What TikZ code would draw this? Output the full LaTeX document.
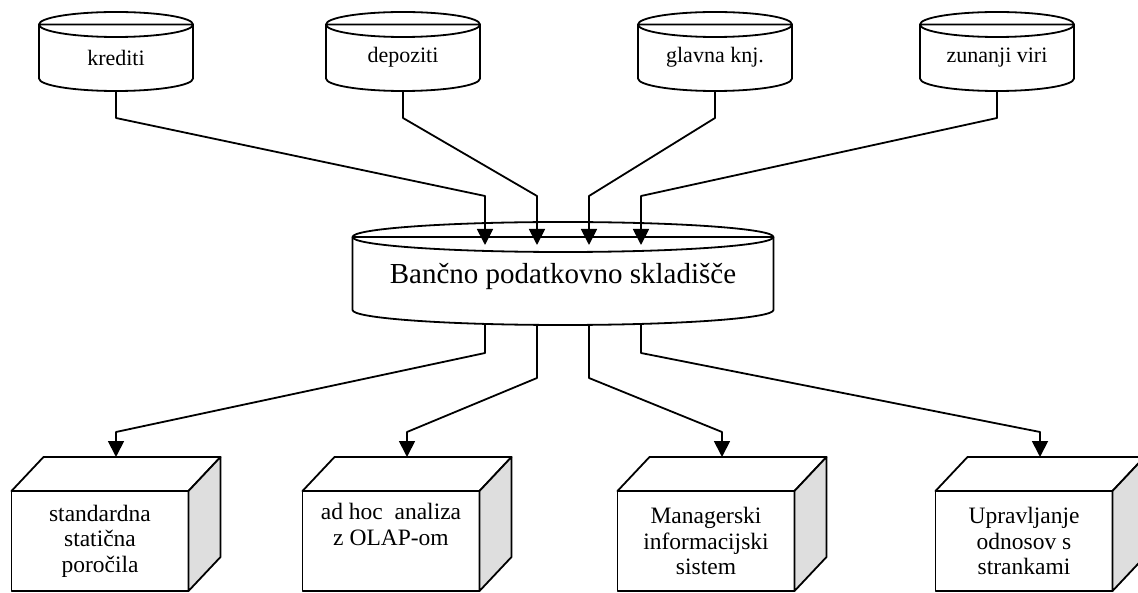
\documentclass[tikz,border=0pt]{standalone}
\usepackage{fontspec}
\setmainfont{Liberation Serif}
\usetikzlibrary{arrows.meta,calc}

\tikzset{
  line/.style={line width=1.8pt, draw=black, line join=round},
  conn/.style={line, -{Triangle[length=16pt,width=16pt]}},
  frame/.style={inner sep=0pt, outer sep=0pt, draw=none},
  srclabel/.style={inner sep=0pt, font=\fontsize{22}{26}\selectfont},
  hublabel/.style={inner sep=0pt, font=\fontsize{29}{34}\selectfont},
  boxfront/.style={line, fill=white, inner sep=0pt, outer sep=0pt,
    minimum width=177pt, minimum height=100pt, align=center,
    font=\fontsize{23.5}{25.5}\selectfont},
  topface/.style={line, fill=white},
  sideface/.style={line, fill=black!13},
}

% data store drawn as a cylinder: name, centre x, centre y, half width, half height, cap radius
\newcommand\dbstore[6]{%
  \node[frame, minimum width={2*#4}, minimum height={2*#5}] (#1) at (#2,#3) {};
  \draw[line, fill=white] (#2-#4,#3-#5+#6) -- (#2-#4,#3+#5-#6)
    arc[start angle=180, end angle=360, x radius=#4pt, y radius=#6pt]
    -- (#2+#4,#3-#5+#6) -- cycle;
  \draw[line] (#2,#3-#5+#6) ellipse[x radius=#4pt, y radius=#6pt];
}

% application drawn as a solid block: name, centre x, centre y, text
\newcommand\viewblock[4]{%
  \node[boxfront] (#1) at (#2,#3) {#4};
  \draw[topface] (#1.north west) -- ++(32,-34) -- ($(#1.north east)+(32,-34)$)
    -- (#1.north east) -- cycle;
  \draw[sideface] (#1.north east) -- ++(32,-34) -- ($(#1.south east)+(32,-34)$)
    -- (#1.south east) -- cycle;
}

\begin{document}
\begin{tikzpicture}[x=1pt, y=-1pt]
\path[use as bounding box, clip] (0,0) rectangle (1138,593);

% source systems
\dbstore{kred}{116}{51.5}{77}{39.5}{12.5}
\dbstore{depo}{403}{51.5}{77}{39.5}{12.5}
\dbstore{glav}{715}{51.5}{77}{39.5}{12.5}
\dbstore{zuna}{997}{51.5}{77}{39.5}{12.5}
\node[srclabel] (kred-t) at ($(kred)+(0,6)$) {krediti};
\node[srclabel] (depo-t) at ($(depo)+(0,6)$) {depoziti};
\node[srclabel] (glav-t) at ($(glav)+(0,6)$) {glavna knj.};
\node[srclabel] (zuna-t) at ($(zuna)+(0,6)$) {zunanji viri};

% central warehouse
\dbstore{wh}{563}{273.5}{210.5}{51.5}{15}
\node[hublabel] (wh-t) at ($(wh)+(0,3)$) {Bančno podatkovno skladišče};

% loading into the warehouse
\draw[conn] (kred.south) -- ++(0,27) -- ($(wh.north)+(-78,-26)$) -- ($(wh.north)+(-78,23)$);
\draw[conn] (depo.south) -- ++(0,27) -- ($(wh.north)+(-26,-26)$) -- ($(wh.north)+(-26,23)$);
\draw[conn] (glav.south) -- ++(0,27) -- ($(wh.north)+(26,-26)$) -- ($(wh.north)+(26,23)$);
\draw[conn] (zuna.south) -- ++(0,27) -- ($(wh.north)+(78,-26)$) -- ($(wh.north)+(78,23)$);

% applications
\viewblock{rep}{100}{541}{standardna\\statična\\poročila}
\viewblock{olap}{391}{541}{ad hoc\ \ analiza\\z OLAP-om\\\strut}
\viewblock{mis}{706}{541}{Managerski\\informacijski\\sistem}
\viewblock{crm}{1024}{541}{Upravljanje\\odnosov s\\strankami}

% delivery from the warehouse
\draw[conn] ($(wh.south)+(-78,0)$) -- ++(0,28) -- ($(rep.north)+(16,-59)$) -- ($(rep.north)+(16,-34)$);
\draw[conn] ($(wh.south)+(-26,0)$) -- ++(0,53) -- ($(olap.north)+(16,-59)$) -- ($(olap.north)+(16,-34)$);
\draw[conn] ($(wh.south)+(26,0)$) -- ++(0,53) -- ($(mis.north)+(16,-59)$) -- ($(mis.north)+(16,-34)$);
\draw[conn] ($(wh.south)+(78,0)$) -- ++(0,28) -- ($(crm.north)+(16,-59)$) -- ($(crm.north)+(16,-34)$);
\end{tikzpicture}
\end{document}
